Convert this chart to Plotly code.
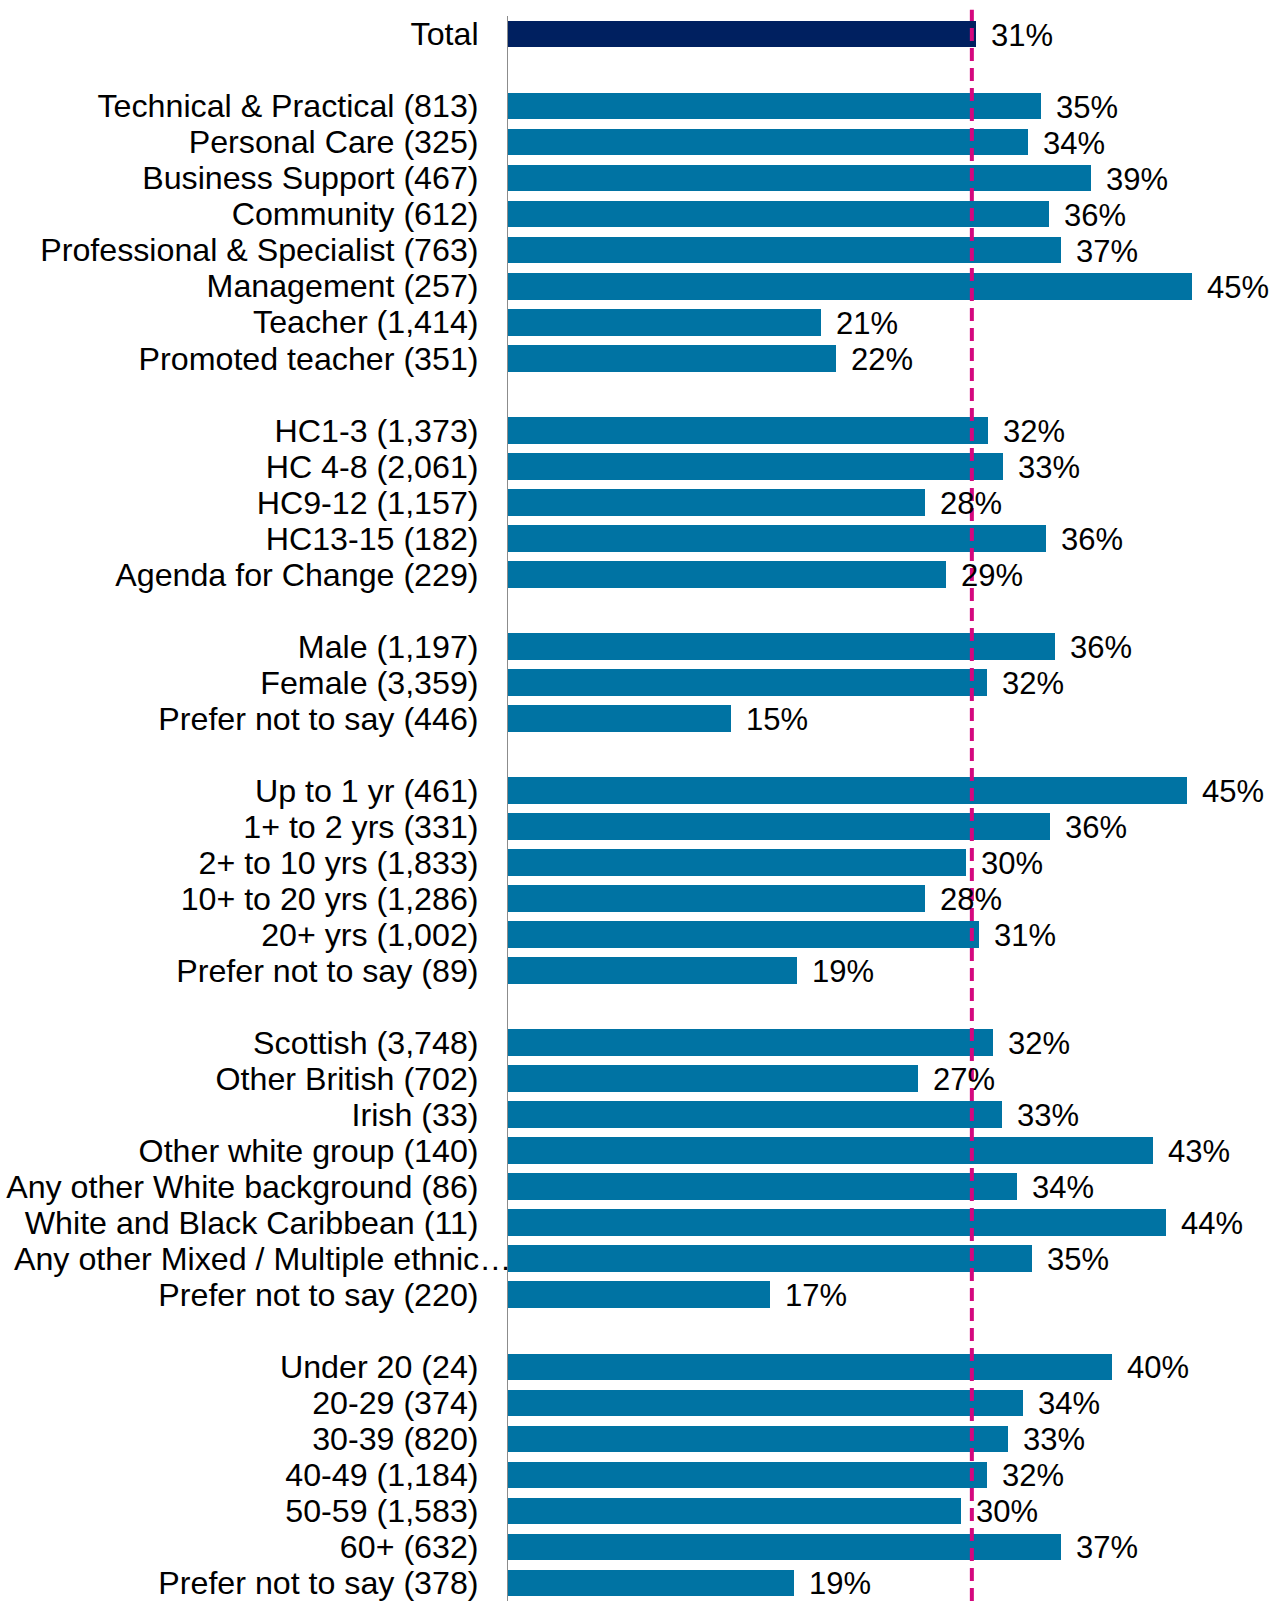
import plotly.graph_objects as go

# ---- data (bar lengths; labels are the printed %) ----
total_label = ["Total"]
total_value = [31.05]
total_pct = [31]

occupation_labels = ["Technical & Practical (813)", "Personal Care (325)", "Business Support (467)",
                     "Community (612)", "Professional & Specialist (763)", "Management (257)",
                     "Teacher (1,414)", "Promoted teacher (351)"]
occupation_values = [35.4, 34.5, 38.7, 35.9, 36.7, 45.4, 20.8, 21.8]
occupation_pct = [35, 34, 39, 36, 37, 45, 21, 22]

grade_labels = ["HC1-3 (1,373)", "HC 4-8 (2,061)", "HC9-12 (1,157)", "HC13-15 (182)",
                "Agenda for Change (229)"]
grade_values = [31.9, 32.9, 27.7, 35.7, 29.1]
grade_pct = [32, 33, 28, 36, 29]

gender_labels = ["Male (1,197)", "Female (3,359)", "Prefer not to say (446)"]
gender_values = [36.3, 31.8, 14.8]
gender_pct = [36, 32, 15]

tenure_labels = ["Up to 1 yr (461)", "1+ to 2 yrs (331)", "2+ to 10 yrs (1,833)",
                 "10+ to 20 yrs (1,286)", "20+ yrs (1,002)", "Prefer not to say (89)"]
tenure_values = [45.1, 36.0, 30.4, 27.7, 31.3, 19.2]
tenure_pct = [45, 36, 30, 28, 31, 19]

ethnicity_labels = ["Scottish (3,748)", "Other British (702)", "Irish (33)", "Other white group (140)",
                    "Any other White background (86)", "White and Black Caribbean (11)",
                    "Any other Mixed / Multiple ethnic…", "Prefer not to say (220)"]
ethnicity_values = [32.2, 27.2, 32.8, 42.8, 33.8, 43.7, 34.8, 17.4]
ethnicity_pct = [32, 27, 33, 43, 34, 44, 35, 17]

age_labels = ["Under 20 (24)", "20-29 (374)", "30-39 (820)", "40-49 (1,184)", "50-59 (1,583)",
              "60+ (632)", "Prefer not to say (378)"]
age_values = [40.1, 34.2, 33.2, 31.8, 30.1, 36.7, 19.0]
age_pct = [40, 34, 33, 32, 30, 37, 19]

total_line = 30.8

groups = [
    (total_label, total_value, total_pct),
    (occupation_labels, occupation_values, occupation_pct),
    (grade_labels, grade_values, grade_pct),
    (gender_labels, gender_values, gender_pct),
    (tenure_labels, tenure_values, tenure_pct),
    (ethnicity_labels, ethnicity_values, ethnicity_pct),
    (age_labels, age_values, age_pct),
]

# ---- build row positions (blank row between groups) ----
rows, labels, values, pcts = [], [], [], []
pos = 0
for gi, (labs, vals, pc) in enumerate(groups):
    if gi > 0:
        pos += 1
    for l, v, p in zip(labs, vals, pc):
        rows.append(pos)
        labels.append(l)
        values.append(v)
        pcts.append(p)
        pos += 1
last_row = rows[-1]

NAVY = "#002060"
BLUE = "#0073A3"
PINK = "#D4087E"
FONT = "Liberation Sans, Arial, sans-serif"
LABEL_SIZE = 32.2

colors = [NAVY] + [BLUE] * (len(values) - 1)

fig = go.Figure()
fig.add_trace(go.Bar(
    x=values, y=rows, orientation="h",
    marker=dict(color=colors, line=dict(width=0)),
    width=0.74, hoverinfo="skip",
))

long_label = "Any other Mixed / Multiple ethnic…"
ticktext = ["" if l == long_label else l for l in labels]

annotations = []
for r, l, v, p in zip(rows, labels, values, pcts):
    annotations.append(dict(
        x=v, y=r, xref="x", yref="y", text=f"{p}%", showarrow=False,
        xanchor="left", yanchor="middle", xshift=13, yshift=-1,
        font=dict(family=FONT, size=31, color="#000000"),
    ))
    if l == long_label:
        annotations.append(dict(
            x=0, y=r, xref="paper", yref="y", text=l, showarrow=False,
            xanchor="right", yanchor="middle", xshift=5,
            font=dict(family=FONT, size=LABEL_SIZE, color="#000000"),
        ))

fig.add_shape(type="line", xref="x", yref="paper", x0=total_line, x1=total_line,
              y0=0, y1=1.004, layer="above",
              line=dict(color=PINK, width=4, dash="13px,7px"))

fig.update_layout(
    width=1274, height=1601,
    margin=dict(l=508, r=13, t=16, b=0),
    paper_bgcolor="white", plot_bgcolor="white",
    showlegend=False,
    annotations=annotations,
    bargap=0,
    font=dict(family=FONT, color="#000000"),
    xaxis=dict(range=[0, 50], showgrid=False, zeroline=False, showticklabels=False,
               showline=False, fixedrange=True),
    yaxis=dict(range=[last_row + 0.5, -0.5], tickmode="array", tickvals=rows, ticktext=ticktext,
               showgrid=False, zeroline=False, showline=True, linecolor="#8C8C8C", linewidth=1,
               ticks="", ticklabelstandoff=22, ticklabeloverflow="allow",
               tickfont=dict(family=FONT, size=LABEL_SIZE, color="#000000")),
)

fig.write_html("out.html", config={"displayModeBar": False},
               post_script="document.body.style.margin='0';document.body.style.overflow='hidden';")
